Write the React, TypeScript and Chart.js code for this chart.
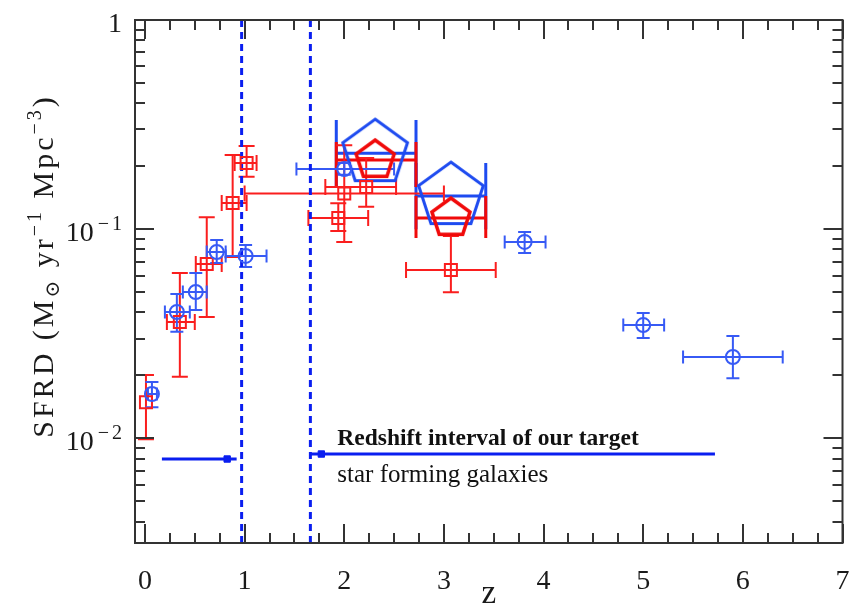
import React, { useEffect, useRef } from 'react';
import { Chart, registerables } from 'chart.js';

Chart.register(...registerables);

// Axis ranges
const Z_MIN = -0.1;
const Z_MAX = 7;
const SFRD_MIN = Math.pow(10, -2.5);
const SFRD_MAX = 1;

// Tick labels
const xTickValues = [0, 1, 2, 3, 4, 5, 6, 7];
const xTickLabels = ['0', '1', '2', '3', '4', '5', '6', '7'];
const yTickValues = [0.01, 0.1, 1];
const yTickBase = ['10', '10', '1'];
const yTickExp = ['−2', '−1', ''];

// Blue circles: SFRD measurements with errors
const blueZ = [0.07, 0.32, 0.51, 0.72, 1.01, 2.0, 3.81, 5.0, 5.9];
const blueSFRD = [0.0163, 0.0402, 0.0501, 0.0778, 0.0745, 0.194, 0.0869, 0.0348, 0.0245];
const blueZLow = [0.03, 0.2, 0.38, 0.62, 0.81, 1.52, 3.61, 4.8, 5.4];
const blueZHigh = [0.12, 0.45, 0.62, 0.81, 1.22, 2.5, 4.02, 5.21, 6.4];
const blueSFRDLow = [0.0141, 0.0323, 0.0411, 0.0689, 0.0659, 0.182, 0.0769, 0.0302, 0.0194];
const blueSFRDHigh = [0.0186, 0.049, 0.0618, 0.0888, 0.084, 0.207, 0.097, 0.0398, 0.0309];

// Red squares: SFRD measurements with errors
const redZ = [0.01, 0.35, 0.62, 0.88, 1.02, 2.0, 1.94, 2.22, 3.07];
const redSFRD = [0.0149, 0.036, 0.0682, 0.1334, 0.207, 0.148, 0.113, 0.159, 0.0638];
const redZLow = [0.01, 0.22, 0.51, 0.77, 0.9, 1.0, 1.64, 1.81, 2.62];
const redZHigh = [0.01, 0.5, 0.77, 1.02, 1.12, 3.0, 2.24, 2.52, 3.52];
const redSFRDLow = [0.0099, 0.0197, 0.038, 0.0737, 0.178, 0.0869, 0.098, 0.128, 0.05];
const redSFRDHigh = [0.0201, 0.0618, 0.114, 0.226, 0.25, 0.252, 0.133, 0.219, 0.0927];

// Pentagons: binned estimates (x bar with boxed y range)
const pentZ = [2.31, 3.07];
const pentZLow = [1.92, 2.72];
const pentZHigh = [2.72, 3.42];
const pentBlueSFRD = [0.231, 0.144];
const pentBlueLow = [0.159, 0.1];
const pentBlueHigh = [0.333, 0.207];
const pentRedSFRD = [0.214, 0.113];
const pentRedLow = [0.159, 0.0908];
const pentRedHigh = [0.261, 0.144];

// Redshift interval markers
const intervalEdges = [0.97, 1.66];
const arrowLeftZ = [0.17, 0.825, 0.92];
const arrowLeftSFRD = 0.00797;
const arrowRightZ = [1.66, 1.77, 5.72];
const arrowRightSFRD = 0.00842;

// Annotation
const noteLines = ['Redshift interval of our target', 'star forming galaxies'];
const noteZ = 1.93;
const noteSFRD = [0.00929, 0.00619];

const BLUE = 'rgb(55, 90, 245)';
const RED = 'rgb(250, 30, 30)';
const PENT_BLUE = 'rgb(30, 75, 240)';
const PENT_RED = 'rgb(240, 10, 10)';
const LINE_BLUE = 'rgb(10, 30, 240)';
const AXIS = '#333';
const SERIF = '"Liberation Serif", "DejaVu Serif", serif';

function pentagonImage(radius: number, color: string, lineWidth: number) {
  const size = Math.ceil(radius * 2 + lineWidth * 2 + 6);
  const even = size % 2 === 0 ? size : size + 1;
  const c = document.createElement('canvas');
  c.width = even;
  c.height = even;
  const g = c.getContext('2d')!;
  const cx = even / 2;
  const cy = even / 2;
  g.beginPath();
  for (let k = 0; k < 5; k++) {
    const a = -Math.PI / 2 + (k * 2 * Math.PI) / 5;
    const px = cx + radius * Math.cos(a);
    const py = cy + radius * Math.sin(a);
    if (k === 0) g.moveTo(px, py);
    else g.lineTo(px, py);
  }
  g.closePath();
  g.strokeStyle = color;
  g.lineWidth = lineWidth;
  g.lineJoin = 'miter';
  g.stroke();
  return c;
}

function drawErrors(
  chart: any,
  zs: number[], vs: number[],
  zLo: number[], zHi: number[],
  vLo: number[], vHi: number[],
  color: string, cap: number, lw: number, boxed: boolean
) {
  const { ctx, scales } = chart;
  const xs = scales.x;
  const ys = scales.y;
  ctx.save();
  ctx.strokeStyle = color;
  ctx.lineWidth = lw;
  ctx.lineCap = 'butt';
  for (let i = 0; i < zs.length; i++) {
    const x = xs.getPixelForValue(zs[i]);
    const y = ys.getPixelForValue(vs[i]);
    const x0 = xs.getPixelForValue(zLo[i]);
    const x1 = xs.getPixelForValue(zHi[i]);
    const y0 = ys.getPixelForValue(vLo[i]);
    const y1 = ys.getPixelForValue(vHi[i]);
    ctx.beginPath();
    if (x1 - x0 > 1) {
      ctx.moveTo(x0, y);
      ctx.lineTo(x1, y);
      if (boxed) {
        ctx.moveTo(x0, y0);
        ctx.lineTo(x0, y1);
        ctx.moveTo(x1, y0);
        ctx.lineTo(x1, y1);
      } else {
        ctx.moveTo(x0, y - cap);
        ctx.lineTo(x0, y + cap);
        ctx.moveTo(x1, y - cap);
        ctx.lineTo(x1, y + cap);
      }
    }
    if (!boxed) {
      ctx.moveTo(x, y0);
      ctx.lineTo(x, y1);
      ctx.moveTo(x - cap, y0);
      ctx.lineTo(x + cap, y0);
      ctx.moveTo(x - cap, y1);
      ctx.lineTo(x + cap, y1);
    }
    ctx.stroke();
  }
  ctx.restore();
}

const errorBarsPlugin = {
  id: 'errorBars',
  beforeDatasetsDraw(chart: any) {
    drawErrors(chart, pentZ, pentBlueSFRD, pentZLow, pentZHigh, pentBlueLow, pentBlueHigh, PENT_BLUE, 0, 3, true);
    drawErrors(chart, pentZ, pentRedSFRD, pentZLow, pentZHigh, pentRedLow, pentRedHigh, PENT_RED, 0, 3, true);
    drawErrors(chart, redZ, redSFRD, redZLow, redZHigh, redSFRDLow, redSFRDHigh, RED, 8, 2, false);
    drawErrors(chart, blueZ, blueSFRD, blueZLow, blueZHigh, blueSFRDLow, blueSFRDHigh, BLUE, 6.5, 2, false);
  },
};

const frameAndLabelsPlugin = {
  id: 'frameAndLabels',
  afterDraw(chart: any) {
    const { ctx, chartArea: a, scales } = chart;
    const xs = scales.x;
    const ys = scales.y;
    ctx.save();
    // inward tick marks on all four sides
    ctx.strokeStyle = AXIS;
    ctx.lineWidth = 2;
    ctx.beginPath();
    for (let v = 0; v <= Z_MAX + 1e-9; v += 0.25) {
      const x = Math.round(xs.getPixelForValue(v));
      const len = Math.abs(v - Math.round(v)) < 1e-9 ? 19 : 10;
      ctx.moveTo(x, a.bottom);
      ctx.lineTo(x, a.bottom - len);
      ctx.moveTo(x, a.top);
      ctx.lineTo(x, a.top + len);
    }
    for (let d = -3; d <= 0; d++) {
      for (let k = 1; k <= 9; k++) {
        const v = k * Math.pow(10, d);
        if (v < SFRD_MIN * 0.999 || v > SFRD_MAX * 1.001) continue;
        const y = Math.round(ys.getPixelForValue(v));
        const len = k === 1 ? 19 : 10;
        ctx.moveTo(a.left, y);
        ctx.lineTo(a.left + len, y);
        ctx.moveTo(a.right, y);
        ctx.lineTo(a.right - len, y);
      }
    }
    ctx.stroke();
    ctx.lineWidth = 2;
    ctx.strokeRect(a.left, a.top, a.right - a.left, a.bottom - a.top);

    // y tick labels with superscript exponents
    ctx.fillStyle = '#1a1a1a';
    ctx.textBaseline = 'alphabetic';
    for (let i = 0; i < yTickValues.length; i++) {
      const y = ys.getPixelForValue(yTickValues[i]);
      const right = a.left - 13;
      ctx.font = `20px ${SERIF}`;
      (ctx as any).letterSpacing = '3px';
      const ew = yTickExp[i] ? ctx.measureText(yTickExp[i]).width : 0;
      if (yTickExp[i]) {
        ctx.textAlign = 'right';
        ctx.fillText(yTickExp[i], right + 3, y + 1);
      }
      (ctx as any).letterSpacing = '0px';
      ctx.font = `28px ${SERIF}`;
      ctx.textAlign = 'right';
      ctx.fillText(yTickBase[i], right - ew - (ew ? 1 : 0), y + 12);
    }

    // y axis title
    const parts: [string, number][] = [
      ['SFRD (M', 0], ['⊙', -1], [' yr', 0], ['−1', 1], [' Mpc', 0], ['−3', 1], [')', 0],
    ];
    const baseFont = `30px ${SERIF}`;
    const smallFont = `20px ${SERIF}`;
    (ctx as any).letterSpacing = '3px';
    let total = 0;
    for (const [t, s] of parts) {
      ctx.font = s === 0 ? baseFont : smallFont;
      total += ctx.measureText(t).width;
    }
    ctx.translate(53, 266);
    ctx.rotate(-Math.PI / 2);
    ctx.textAlign = 'left';
    let cx = -total / 2;
    for (const [t, s] of parts) {
      ctx.font = s === 0 ? baseFont : smallFont;
      const dy = s === 0 ? 0 : s > 0 ? -12 : 6;
      ctx.fillText(t, cx, dy);
      cx += ctx.measureText(t).width;
    }
    ctx.setTransform(1, 0, 0, 1, 0, 0);
    (ctx as any).letterSpacing = '0px';

    // x axis title
    ctx.font = `33px ${SERIF}`;
    ctx.textAlign = 'center';
    ctx.fillText('z', xs.getPixelForValue(3.45), 603);

    // annotation
    const nx = xs.getPixelForValue(noteZ);
    ctx.textAlign = 'left';
    ctx.fillStyle = '#111';
    ctx.font = `bold 23.5px ${SERIF}`;
    ctx.fillText(noteLines[0], nx, ys.getPixelForValue(noteSFRD[0]));
    ctx.font = `25px ${SERIF}`;
    ctx.fillText(noteLines[1], nx, ys.getPixelForValue(noteSFRD[1]));
    ctx.restore();
  },
};

export default function App() {
  const canvasRef = useRef<HTMLCanvasElement | null>(null);

  useEffect(() => {
    const canvas = canvasRef.current;
    if (!canvas) return;

    const bluePent = pentagonImage(34, PENT_BLUE, 3);
    const redPent = pentagonImage(20, PENT_RED, 3.5);

    const edgeSets = intervalEdges.map((z) => ({
      type: 'line' as const,
      data: [{ x: z, y: SFRD_MIN }, { x: z, y: SFRD_MAX }],
      borderColor: LINE_BLUE,
      borderWidth: 3,
      borderDash: [7, 5],
      pointRadius: 0,
      showLine: true,
      order: 5,
    }));

    const arrowSet = (zs: number[], v: number) => ({
      type: 'line' as const,
      data: zs.map((z) => ({ x: z, y: v })),
      borderColor: LINE_BLUE,
      borderWidth: 3,
      pointRadius: [0, 4.5, 0],
      pointStyle: 'rect' as const,
      pointBackgroundColor: LINE_BLUE,
      pointBorderColor: LINE_BLUE,
      pointBorderWidth: 1,
      showLine: true,
      order: 4,
    });

    const chart = new Chart(canvas, {
      type: 'scatter',
      data: {
        datasets: [
          ...edgeSets,
          arrowSet(arrowLeftZ, arrowLeftSFRD),
          arrowSet(arrowRightZ, arrowRightSFRD),
          {
            data: pentZ.map((z, i) => ({ x: z, y: pentBlueSFRD[i] })),
            pointStyle: bluePent as any,
            order: 3,
          },
          {
            data: pentZ.map((z, i) => ({ x: z, y: pentRedSFRD[i] })),
            pointStyle: redPent as any,
            order: 2,
          },
          {
            data: redZ.map((z, i) => ({ x: z, y: redSFRD[i] })),
            pointStyle: 'rect',
            pointRadius: 8.5,
            borderColor: RED,
            backgroundColor: 'rgba(0,0,0,0)',
            borderWidth: 2,
            order: 1,
          },
          {
            data: blueZ.map((z, i) => ({ x: z, y: blueSFRD[i] })),
            pointStyle: 'circle',
            pointRadius: 7,
            borderColor: BLUE,
            backgroundColor: 'rgba(0,0,0,0)',
            borderWidth: 2,
            order: 0,
          },
        ] as any,
      },
      options: {
        animation: false,
        responsive: false,
        devicePixelRatio: 1,
        layout: { padding: { top: 20, right: 7, left: 0, bottom: 0 } },
        plugins: {
          legend: { display: false },
          tooltip: { enabled: false },
        },
        scales: {
          x: {
            type: 'linear',
            min: Z_MIN,
            max: Z_MAX,
            grid: { display: false, drawTicks: false },
            border: { display: false },
            afterBuildTicks: (scale: any) => {
              scale.ticks = xTickValues.map((v) => ({ value: v }));
            },
            afterFit: (scale: any) => {
              scale.height = 67;
              scale.paddingLeft = 0;
              scale.paddingRight = 0;
            },
            ticks: {
              padding: 22,
              color: '#1a1a1a',
              font: { family: SERIF, size: 28 },
              maxRotation: 0,
              callback: (v: any) => {
                const i = xTickValues.indexOf(Number(v));
                return i >= 0 ? xTickLabels[i] : '';
              },
            },
          },
          y: {
            type: 'logarithmic',
            min: SFRD_MIN,
            max: SFRD_MAX,
            grid: { display: false, drawTicks: false },
            border: { display: false },
            afterBuildTicks: (scale: any) => {
              scale.ticks = yTickValues.map((v) => ({ value: v }));
            },
            afterFit: (scale: any) => {
              scale.width = 135;
              scale.paddingTop = 0;
              scale.paddingBottom = 0;
            },
            ticks: { display: false },
          },
        },
      },
      plugins: [errorBarsPlugin, frameAndLabelsPlugin],
    });

    return () => chart.destroy();
  }, []);

  return (
    <div style={{ position: 'absolute', left: 0, top: 0, width: 853, height: 610, background: '#fff' }}>
      <canvas ref={canvasRef} width={853} height={610} />
    </div>
  );
}
